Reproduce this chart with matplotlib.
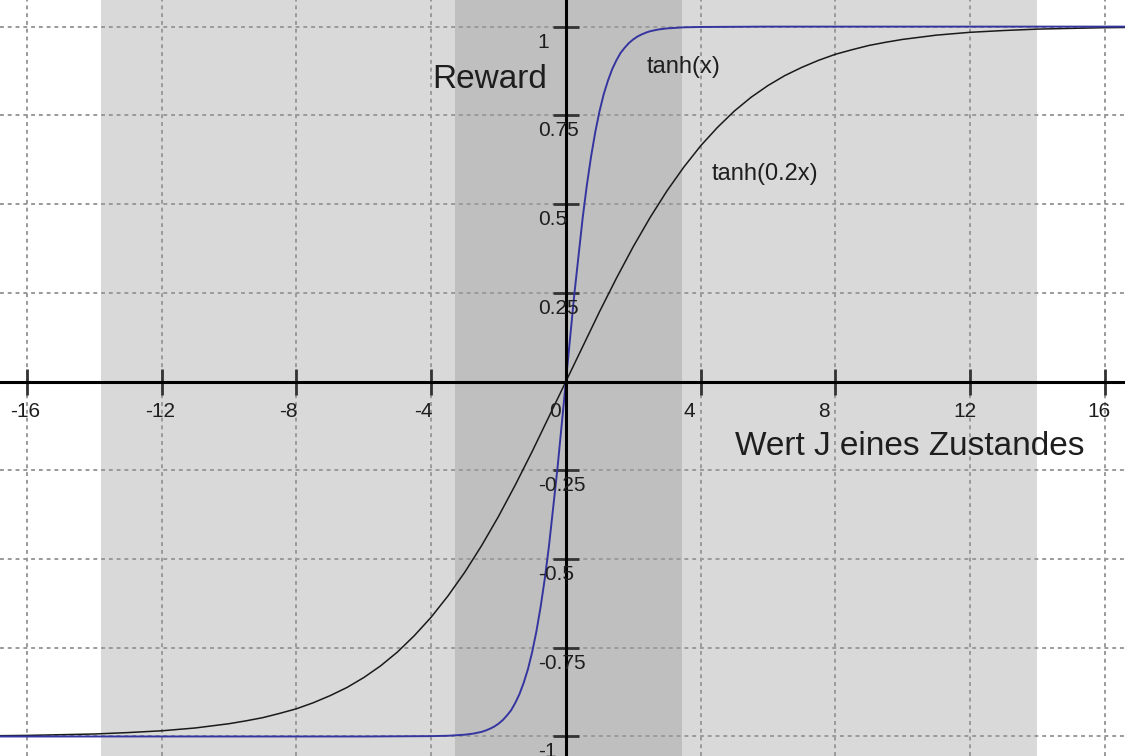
import matplotlib
matplotlib.use("Agg")
import matplotlib.pyplot as plt
from matplotlib.transforms import offset_copy

plt.rcParams["font.family"] = ["Liberation Sans", "DejaVu Sans"]

# curve samples
tanh_x = [-17, -6, -4, -3.5, -3, -2.75, -2.5, -2.375, -2.25, -2.125, -2,
          -1.875, -1.75, -1.625, -1.5, -1.375, -1.25, -1.125, -1, -0.875,
          -0.75, -0.625, -0.5, -0.25, 0, 0.25, 0.5, 0.625, 0.75, 0.875, 1,
          1.125, 1.25, 1.375, 1.5, 1.625, 1.75, 1.875, 2, 2.125, 2.25,
          2.375, 2.5, 2.75, 3, 3.5, 4, 6, 17]
tanh_y = [-1.0, -1.0, -0.999, -0.998, -0.995, -0.992, -0.987, -0.983,
          -0.978, -0.972, -0.964, -0.954, -0.941, -0.926, -0.905, -0.880,
          -0.848, -0.810, -0.762, -0.704, -0.635, -0.555, -0.462, -0.245,
          0.0, 0.245, 0.462, 0.555, 0.635, 0.704, 0.762, 0.810, 0.848,
          0.880, 0.905, 0.926, 0.941, 0.954, 0.964, 0.972, 0.978, 0.983,
          0.987, 0.992, 0.995, 0.998, 0.999, 1.0, 1.0]

tanh02_x = [-17, -16, -15, -14, -13, -12, -11, -10, -9.5, -9, -8.5, -8,
            -7.5, -7, -6.5, -6, -5.5, -5, -4.5, -4, -3.5, -3, -2.5, -2,
            -1.5, -1, 0, 1, 1.5, 2, 2.5, 3, 3.5, 4, 4.5, 5, 5.5, 6, 6.5, 7,
            7.5, 8, 8.5, 9, 9.5, 10, 11, 12, 13, 14, 15, 16, 17]
tanh02_y = [-0.998, -0.997, -0.995, -0.993, -0.989, -0.984, -0.976, -0.964,
            -0.956, -0.947, -0.935, -0.922, -0.905, -0.885, -0.862, -0.834,
            -0.801, -0.762, -0.716, -0.664, -0.604, -0.537, -0.462, -0.380,
            -0.291, -0.197, 0.0, 0.197, 0.291, 0.380, 0.462, 0.537, 0.604,
            0.664, 0.716, 0.762, 0.801, 0.834, 0.862, 0.885, 0.905, 0.922,
            0.935, 0.947, 0.956, 0.964, 0.976, 0.984, 0.989, 0.993, 0.995,
            0.997, 0.998]

x_ticks = [-16, -12, -8, -4, 4, 8, 12, 16]
x_labels = ["-16", "-12", "-8", "-4", "0", "4", "8", "12", "16"]
x_label_pos = [-16, -12, -8, -4, 0, 4, 8, 12, 16]
y_ticks = [-1, -0.75, -0.5, -0.25, 0.25, 0.5, 0.75, 1]
y_labels = ["-1", "-0.75", "-0.5", "-0.25", "0.25", "0.5", "0.75", "1"]

outer_band = (-13.8, 14.0)
inner_band = (-3.3, 3.45)

fig = plt.figure(figsize=(11.25, 7.56), dpi=100)
ax = fig.add_axes([0, 0, 1, 1])
ax.set_xlim(-16.8, 16.6)
ax.set_ylim(-1.055, 1.075)

ax.axvspan(*outer_band, color="#d9d9d9", lw=0, zorder=0)
ax.axvspan(*inner_band, color="#bfbfbf", lw=0, zorder=0.1)

ax.set_axisbelow(True)
ax.set_xticks(x_ticks)
ax.set_yticks(y_ticks)
ax.grid(True, linestyle=(0, (2, 2)), color="#9a9a9a", lw=1.4)

for side in ["top", "right"]:
    ax.spines[side].set_visible(False)
ax.spines["left"].set_position(("data", 0))
ax.spines["bottom"].set_position(("data", 0))
for side in ["left", "bottom"]:
    ax.spines[side].set_linewidth(2.2)
    ax.spines[side].set_color("black")
    ax.spines[side].set_zorder(3)

ax.tick_params(
    direction="inout",
    length=19,
    width=2,
    color="#333333",
    labelbottom=False,
    labelleft=False,
)

ax.plot(tanh02_x, tanh02_y, color="#1a1a1a", lw=1.1, zorder=2)
ax.plot(tanh_x, tanh_y, color="#3535a0", lw=1.4, zorder=2.2)

text_color = "#1e1e1e"

x_trans = offset_copy(ax.transData, fig=fig, x=-17, y=-20, units="dots")
for pos, lab in zip(x_label_pos, x_labels):
    ax.text(pos, 0, lab, transform=x_trans, ha="left", va="top",
            fontsize=15, color=text_color, zorder=4)

y_trans = offset_copy(ax.transData, fig=fig, x=-28, y=-6, units="dots")
for pos, lab in zip(y_ticks, y_labels):
    ax.text(0, pos, lab, transform=y_trans, ha="left", va="top",
            fontsize=15, color=text_color, zorder=4)

ax.text(-3.98, 0.827, "Reward", fontsize=24, color=text_color,
        va="baseline", ha="left", zorder=4)
ax.text(5.01, -0.207, "Wert J eines Zustandes", fontsize=24,
        color=text_color, va="baseline", ha="left", zorder=4)
ax.text(2.40, 0.869, "tanh(x)", fontsize=17, color=text_color,
        va="baseline", ha="left", zorder=4)
ax.text(4.33, 0.568, "tanh(0.2x)", fontsize=17, color=text_color,
        va="baseline", ha="left", zorder=4)

fig.savefig("out.png", dpi=100)
